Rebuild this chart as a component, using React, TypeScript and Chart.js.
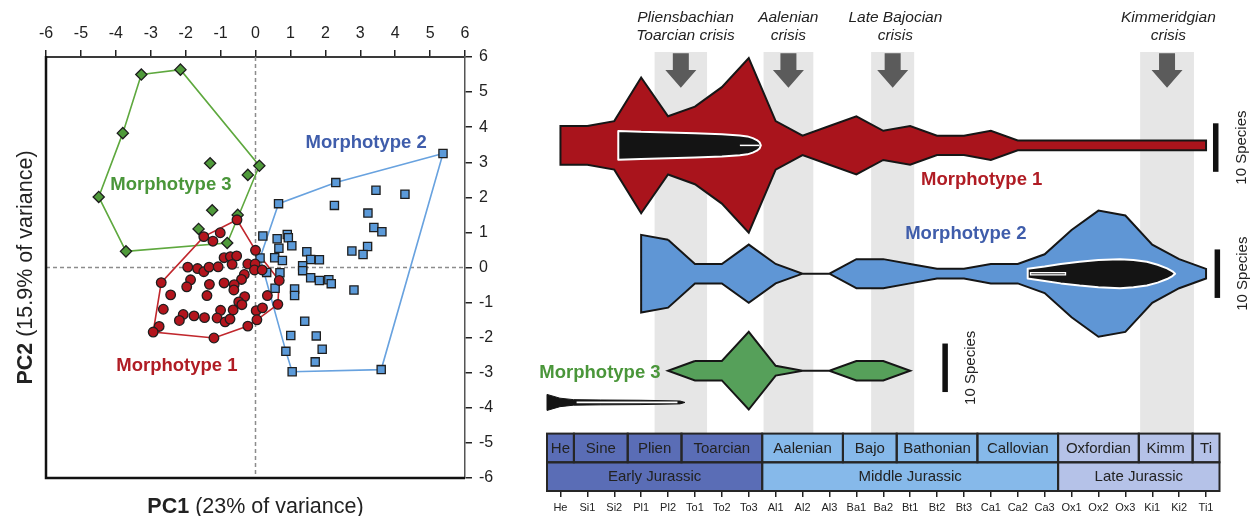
import { useEffect, useRef } from "react";
import { Chart, registerables } from "chart.js";

Chart.register(...registerables);

const FONT = '"Liberation Sans", Arial, Helvetica, sans-serif';
const INK = "#222222";

/* ---------------- Morphospace (PCA) ---------------- */

const PC_MIN = -6;
const PC_MAX = 6;

// [PC1, PC2] scores per specimen
const MORPHOTYPE_1_SCORES: [number, number][] = [
  [-0.53, 1.36], [-1.48, 0.88], [-1.01, 0.99], [-1.22, 0.75], [0.0, 0.49],
  [-0.9, 0.28], [-0.72, 0.31], [-0.54, 0.33], [-0.67, 0.09],
  [-0.22, 0.1], [-0.01, 0.1], [-0.03, -0.07], [0.19, -0.07],
  [-1.94, 0.01], [-1.66, -0.03], [-1.48, -0.12], [-1.33, 0.01], [-1.07, 0.02],
  [-0.32, -0.2], [-0.4, -0.34], [0.68, -0.37], [-2.7, -0.43],
  [-1.86, -0.35], [-1.97, -0.55], [-1.32, -0.48], [-0.9, -0.44], [-0.61, -0.49], [-0.62, -0.64],
  [-2.43, -0.78], [-1.39, -0.8], [-0.31, -0.83], [0.34, -0.8],
  [-0.48, -0.98], [-0.39, -1.06], [0.64, -1.05],
  [-2.64, -1.19], [-1.0, -1.22], [-0.64, -1.21], [0.02, -1.23], [0.2, -1.15],
  [-2.07, -1.34], [-2.18, -1.51], [-1.76, -1.38], [-1.46, -1.43],
  [-1.1, -1.44], [-0.87, -1.55], [-0.73, -1.47], [0.04, -1.49], [-0.22, -1.67],
  [-2.76, -1.68], [-2.93, -1.84], [-1.19, -2.01],
];

const MORPHOTYPE_2_SCORES: [number, number][] = [
  [5.37, 3.25], [2.3, 2.42], [3.45, 2.2], [4.28, 2.09], [0.66, 1.82], [2.26, 1.77],
  [3.22, 1.55], [3.39, 1.14], [3.62, 1.02],
  [0.21, 0.9], [0.62, 0.82], [0.91, 0.94], [0.94, 0.85], [0.67, 0.55], [1.04, 0.62],
  [2.76, 0.47], [3.21, 0.6], [3.08, 0.37],
  [0.13, 0.27], [0.55, 0.28], [0.77, 0.2], [1.47, 0.45], [1.58, 0.23], [1.83, 0.22],
  [1.35, 0.05], [1.35, -0.09], [0.32, -0.14], [0.7, -0.15],
  [1.58, -0.29], [1.83, -0.37], [2.1, -0.35], [2.17, -0.46],
  [2.82, -0.64], [0.56, -0.59], [1.12, -0.61], [1.12, -0.8],
  [1.41, -1.53], [1.01, -1.94], [1.74, -1.95], [1.91, -2.33], [0.87, -2.39],
  [1.71, -2.69], [1.05, -2.97], [3.6, -2.91],
];

const MORPHOTYPE_3_SCORES: [number, number][] = [
  [-3.27, 5.5], [-2.15, 5.64], [-3.8, 3.83], [-1.3, 2.97], [0.11, 2.9], [-0.22, 2.64],
  [-4.49, 2.01], [-1.24, 1.63], [-0.51, 1.5], [-1.63, 1.1], [-0.81, 0.7], [-3.71, 0.46],
];

// outlines drawn round each morphotype
const MORPHOTYPE_1_HULL: [number, number][] = [
  [-0.53, 1.36], [0.0, 0.49], [0.68, -0.37], [0.64, -1.05], [0.04, -1.49],
  [-0.22, -1.67], [-1.19, -2.01], [-2.93, -1.84], [-2.7, -0.43], [-1.48, 0.88],
];
const MORPHOTYPE_2_HULL: [number, number][] = [
  [5.37, 3.25], [2.3, 2.42], [0.66, 1.82], [0.13, 0.27], [0.87, -2.39], [1.05, -2.97], [3.6, -2.91],
];
const MORPHOTYPE_3_HULL: [number, number][] = [
  [-3.27, 5.5], [-2.15, 5.64], [0.11, 2.9], [-0.81, 0.7], [-3.71, 0.46], [-4.49, 2.01], [-3.8, 3.83],
];

const MORPHOTYPE_NAMES = ["Morphotype 1", "Morphotype 2", "Morphotype 3"];
const MARKER_COLORS = ["#b3151d", "#5b9ad9", "#4f9a3a"];
const HULL_COLORS = ["#c1272d", "#68a2df", "#5ea83e"];
const LABEL_COLORS = ["#b01c24", "#3f5dab", "#4a963a"];
const PCA_LABEL_AT: [number, number][] = [[-2.25, -2.81], [3.17, 3.54], [-2.42, 2.36]];

/* ---------------- Stratigraphic ranges ---------------- */

const TIME_BINS = [
  "He", "Si1", "Si2", "Pl1", "Pl2", "To1", "To2", "To3", "Al1", "Al2", "Al3", "Ba1", "Ba2",
  "Bt1", "Bt2", "Bt3", "Ca1", "Ca2", "Ca3", "Ox1", "Ox2", "Ox3", "Ki1", "Ki2", "Ti1",
];
const STAGES = ["He", "Sine", "Plien", "Toarcian", "Aalenian", "Bajo", "Bathonian", "Callovian", "Oxfordian", "Kimm", "Ti"];
const STAGE_BINS = [1, 2, 2, 3, 3, 2, 3, 3, 3, 2, 1];
const EPOCHS = ["Early Jurassic", "Middle Jurassic", "Late Jurassic"];
const EPOCH_BINS = [8, 11, 6];
const EPOCH_COLORS = ["#5a6db6", "#86b9ea", "#b5c2e8"];

// species richness per time bin (null = not present)
const RICHNESS_1 = [8, 8, 10, 28, 12, 16, 24, 36, 10, 4, 8, 12, 6, 8, 4, 4, 6, 2, 2, 2, 2, 2, 2, 2, 2];
const RICHNESS_2 = [null, null, null, 16, 14, 4, 4, 12, 4, 0, 0, 6, 6, 4, 2, 2, 4, 4, 8, 18, 26, 24, 12, 6, 2];
const RICHNESS_3 = [null, null, null, null, 0, 4, 4, 16, 2, 0, 0, 4, 4, 0, null, null, null, null, null, null, null, null, null, null, null];

// black sub-lineages: position along the bins and width in species
const LINEAGE_1_POS = [2.15, 3, 4, 5, 6, 6.67, 6.95, 7.15, 7.3, 7.4, 7.45];
const LINEAGE_1_WIDTH = [5.9, 5.6, 5.3, 5.0, 4.6, 4.1, 3.7, 3.0, 2.2, 1.3, 0];
const LINEAGE_2_POS = [17.37, 18, 18.6, 19.3, 20, 20.8, 21.3, 21.8, 22.2, 22.55, 22.75, 22.85];
const LINEAGE_2_WIDTH = [2.0, 3.0, 4.0, 4.9, 5.6, 6.0, 5.6, 4.9, 3.7, 2.2, 1.0, 0];
const LINEAGE_3_POS = [-0.5, -0.02, 0.48, 1.5, 2.96, 4.44, 4.63];
const LINEAGE_3_WIDTH = [3.3, 1.75, 1.15, 1.0, 0.9, 0.6, 0];
const LINEAGE_MARKS: [number, number][] = [[6.67, 7.4], [17.45, 18.8], [0.6, 4.35]];

// vertical layout of the rows, in species units
const Y_SPECIES_MAX = 90.5;
const ROW_CENTRE = [71.25, 44.8, 24.8];
const LINEAGE_3_CENTRE = 18.26;
const SCALE_BAR_SPECIES = 10;
const BAR_AT = [24.36, 24.42, 14.3];
const BAR_CENTRE = [70.8, 44.8, 25.4];
const SPINDLE_LABEL_AT: [number, number][] = [[15.66, 64.1], [15.07, 53.1], [1.47, 24.26]];
const SPINDLE_COLORS = ["#a9141c", "#5f96d5", "#56a05a"];

// extinction events
const CRISES = ["Pliensbachian\nToarcian crisis", "Aalenian\ncrisis", "Late Bajocian\ncrisis", "Kimmeridgian\ncrisis"];
const CRISIS_START = [3.5, 7.55, 11.55, 21.55];
const CRISIS_END = [5.45, 9.4, 13.15, 23.55];
const CRISIS_LABEL_AT = [4.65, 8.47, 12.45, 22.6];

/* ---------------- helpers ---------------- */

type Pt = { x: number; y: number };

function closedRing(pos: number[], widths: (number | null)[], centre: number): Pt[] {
  const upper: Pt[] = [];
  const lower: Pt[] = [];
  pos.forEach((p, i) => {
    const w = widths[i];
    if (w == null) return;
    upper.push({ x: p, y: centre + w / 2 });
    lower.unshift({ x: p, y: centre - w / 2 });
  });
  const pts = upper.concat(lower);
  // start on a flat part of the outline so the seam is invisible
  return pts.slice(1).concat(pts.slice(0, 2));
}

function drawMixed(ctx: CanvasRenderingContext2D, parts: [string, string][], cx: number, y: number) {
  const widths = parts.map(([t, f]) => {
    ctx.font = f;
    return ctx.measureText(t).width;
  });
  let x = cx - widths.reduce((a, b) => a + b, 0) / 2;
  ctx.textAlign = "left";
  parts.forEach(([t, f], i) => {
    ctx.font = f;
    ctx.fillText(t, x, y);
    x += widths[i];
  });
}

/* ---------------- PCA chart ---------------- */

const pcaDecor = {
  id: "pcaDecor",
  beforeDatasetsDraw(chart: any) {
    const { ctx, chartArea: a, scales } = chart;
    const x0 = scales.x.getPixelForValue(0);
    const y0 = scales.y.getPixelForValue(0);
    ctx.save();
    ctx.strokeStyle = "#8c8c8c";
    ctx.lineWidth = 1.5;
    ctx.setLineDash([4, 3]);
    ctx.beginPath();
    ctx.moveTo(x0, a.top);
    ctx.lineTo(x0, a.bottom);
    ctx.moveTo(a.left, y0);
    ctx.lineTo(a.right, y0);
    ctx.stroke();
    ctx.restore();
  },
  afterDraw(chart: any) {
    const { ctx, chartArea: a, scales } = chart;
    ctx.save();
    ctx.strokeStyle = "#111";
    ctx.lineWidth = 2.5;
    ctx.beginPath();
    ctx.moveTo(a.left, a.top - 1);
    ctx.lineTo(a.left, a.bottom);
    ctx.lineTo(a.right, a.bottom);
    ctx.stroke();

    ctx.font = `bold 18.5px ${FONT}`;
    ctx.textAlign = "center";
    ctx.textBaseline = "middle";
    MORPHOTYPE_NAMES.forEach((name, i) => {
      ctx.fillStyle = LABEL_COLORS[i];
      ctx.fillText(name, scales.x.getPixelForValue(PCA_LABEL_AT[i][0]), scales.y.getPixelForValue(PCA_LABEL_AT[i][1]));
    });

    ctx.fillStyle = INK;
    ctx.textBaseline = "alphabetic";
    drawMixed(ctx, [["PC1", `bold 21.5px ${FONT}`], [" (23% of variance)", `21.5px ${FONT}`]], (a.left + a.right) / 2, 513);
    ctx.translate(31.5, (a.top + a.bottom) / 2);
    ctx.rotate(-Math.PI / 2);
    drawMixed(ctx, [["PC2", `bold 21.5px ${FONT}`], [" (15.9% of variance)", `21.5px ${FONT}`]], 0, 0);
    ctx.restore();
  },
};

function PcaChart() {
  const ref = useRef<HTMLCanvasElement>(null);
  useEffect(() => {
    const toXY = (arr: [number, number][]) => arr.map(([x, y]) => ({ x, y }));
    const closeRing = (arr: [number, number][]) => toXY(arr.concat([arr[0]]));
    const scores = [MORPHOTYPE_1_SCORES, MORPHOTYPE_2_SCORES, MORPHOTYPE_3_SCORES];
    const hulls = [MORPHOTYPE_1_HULL, MORPHOTYPE_2_HULL, MORPHOTYPE_3_HULL];
    const styles = ["circle", "rect", "rectRot"];
    const radii = [4.8, 5.8, 5.6];

    const pointSets = scores.map((s, i) => ({
      label: MORPHOTYPE_NAMES[i],
      data: toXY(s),
      pointStyle: styles[i],
      pointRadius: radii[i],
      pointBackgroundColor: MARKER_COLORS[i],
      pointBorderColor: "#1e1e1e",
      pointBorderWidth: 1.3,
      showLine: false,
      order: 0,
    }));
    const hullSets = hulls.map((h, i) => ({
      label: MORPHOTYPE_NAMES[i] + " hull",
      data: closeRing(h),
      showLine: true,
      pointRadius: 0,
      borderColor: HULL_COLORS[i],
      borderWidth: 1.6,
      fill: false,
      order: 1,
    }));

    const tickFont = { family: FONT, size: 16 };
    const chart = new Chart(ref.current!, {
      type: "scatter",
      data: { datasets: [...pointSets, ...hullSets] as any },
      options: {
        responsive: false,
        animation: false,
        events: [],
        layout: { padding: { left: 46, bottom: 38, top: 0, right: 0 } },
        plugins: { legend: { display: false }, tooltip: { enabled: false } },
        scales: {
          x: {
            type: "linear",
            position: "top",
            min: PC_MIN,
            max: PC_MAX,
            ticks: { stepSize: 1, color: INK, font: tickFont, padding: 7, maxRotation: 0 },
            grid: { drawOnChartArea: false, tickLength: 7, color: "#222", lineWidth: 1.5 },
            border: { color: "#3a3a3a", width: 2 },
            afterFit: (s: any) => {
              s.height = 57;
            },
          },
          y: {
            type: "linear",
            position: "right",
            min: PC_MIN,
            max: PC_MAX,
            ticks: { stepSize: 1, color: INK, font: tickFont, padding: 7 },
            grid: { drawOnChartArea: false, tickLength: 7, color: "#222", lineWidth: 1.5 },
            border: { color: "#555", width: 1.5 },
            afterFit: (s: any) => {
              s.width = 55;
            },
          },
        },
      } as any,
      plugins: [pcaDecor as any],
    });
    return () => chart.destroy();
  }, []);
  return <canvas ref={ref} width={520} height={516} style={{ position: "absolute", left: 0, top: 0, width: 520, height: 516 }} />;
}

/* ---------------- Range chart ---------------- */

const STRIP_ROW = 28.7;

const rangeDecor = {
  id: "rangeDecor",
  beforeDatasetsDraw(chart: any) {
    const { ctx, chartArea: a, scales } = chart;
    const px = (v: number) => scales.x.getPixelForValue(v);
    const stripTop = a.bottom - 2 * STRIP_ROW;
    ctx.save();

    ctx.fillStyle = "#e6e6e6";
    CRISIS_START.forEach((s, i) => {
      const l = px(s);
      const r = px(CRISIS_END[i]);
      ctx.fillRect(l, a.top, r - l, stripTop - a.top);
    });

    ctx.fillStyle = "#5b5b5b";
    CRISIS_START.forEach((s, i) => {
      const c = px((s + CRISIS_END[i]) / 2);
      const t = a.top + 1.3;
      const h = a.top + 18;
      const tip = a.top + 35.7;
      ctx.beginPath();
      ctx.moveTo(c - 8, t);
      ctx.lineTo(c + 8, t);
      ctx.lineTo(c + 8, h);
      ctx.lineTo(c + 15.5, h);
      ctx.lineTo(c, tip);
      ctx.lineTo(c - 15.5, h);
      ctx.lineTo(c - 8, h);
      ctx.closePath();
      ctx.fill();
    });

    ctx.fillStyle = INK;
    ctx.font = `italic 15.5px ${FONT}`;
    ctx.textAlign = "center";
    ctx.textBaseline = "alphabetic";
    CRISES.forEach((name, i) => {
      name.split("\n").forEach((line, k) => ctx.fillText(line, px(CRISIS_LABEL_AT[i]), 21.7 + k * 18.3));
    });

    // geological time scale
    const epochOf = (bin: number) => {
      let acc = 0;
      for (let k = 0; k < EPOCH_BINS.length; k++) {
        acc += EPOCH_BINS[k];
        if (bin < acc) return k;
      }
      return EPOCH_BINS.length - 1;
    };
    const cells: { name: string; s: number; e: number; row: number; color: string }[] = [];
    let b = 0;
    STAGES.forEach((name, i) => {
      cells.push({ name, s: b, e: b + STAGE_BINS[i], row: 0, color: EPOCH_COLORS[epochOf(b)] });
      b += STAGE_BINS[i];
    });
    b = 0;
    EPOCHS.forEach((name, i) => {
      cells.push({ name, s: b, e: b + EPOCH_BINS[i], row: 1, color: EPOCH_COLORS[i] });
      b += EPOCH_BINS[i];
    });
    cells.forEach((c) => {
      ctx.fillStyle = c.color;
      const l = px(c.s - 0.5);
      ctx.fillRect(l, stripTop + c.row * STRIP_ROW, px(c.e - 0.5) - l, STRIP_ROW);
    });
    ctx.strokeStyle = "#262626";
    ctx.lineWidth = 2;
    ctx.font = `15px ${FONT}`;
    ctx.textBaseline = "middle";
    cells.forEach((c) => {
      const l = px(c.s - 0.5);
      const r = px(c.e - 0.5);
      const top = stripTop + c.row * STRIP_ROW;
      ctx.strokeRect(l, top, r - l, STRIP_ROW);
      ctx.fillStyle = INK;
      ctx.fillText(c.name, (l + r) / 2, top + STRIP_ROW / 2 + 0.5);
    });
    ctx.restore();
  },
  afterDatasetsDraw(chart: any) {
    const { ctx, scales } = chart;
    const px = (v: number) => scales.x.getPixelForValue(v);
    const py = (v: number) => scales.y.getPixelForValue(v);
    ctx.save();
    ctx.font = `bold 18.5px ${FONT}`;
    ctx.textAlign = "center";
    ctx.textBaseline = "middle";
    MORPHOTYPE_NAMES.forEach((name, i) => {
      ctx.fillStyle = LABEL_COLORS[i];
      ctx.fillText(name, px(SPINDLE_LABEL_AT[i][0]), py(SPINDLE_LABEL_AT[i][1]));
    });
    BAR_AT.forEach((at, i) => {
      const bx = px(at);
      const top = py(BAR_CENTRE[i] + SCALE_BAR_SPECIES / 2);
      const bot = py(BAR_CENTRE[i] - SCALE_BAR_SPECIES / 2);
      ctx.fillStyle = "#111";
      ctx.fillRect(bx - 2.75, top, 5.5, bot - top);
      ctx.save();
      ctx.translate(bx + 26, (top + bot) / 2);
      ctx.rotate(-Math.PI / 2);
      ctx.font = `15px ${FONT}`;
      ctx.fillStyle = INK;
      ctx.fillText(`${SCALE_BAR_SPECIES} Species`, 0, 0);
      ctx.restore();
    });
    ctx.restore();
  },
};

function RangeChart() {
  const ref = useRef<HTMLCanvasElement>(null);
  useEffect(() => {
    const binPos = TIME_BINS.map((_, i) => i);
    const richness = [RICHNESS_1, RICHNESS_2, RICHNESS_3];
    const shape = {
      showLine: true,
      pointRadius: 0,
      pointHoverRadius: 0,
      fill: "shape",
      borderJoinStyle: "miter",
      borderDash: [1000, 0],
      tension: 0,
      clip: false,
    };
    const spindles = richness.map((r, i) => ({
      ...shape,
      label: MORPHOTYPE_NAMES[i],
      data: closedRing(binPos, r, ROW_CENTRE[i]),
      backgroundColor: SPINDLE_COLORS[i],
      borderColor: "#161616",
      borderWidth: 2,
      order: 3,
    }));
    const lineages = [
      { pos: LINEAGE_1_POS, w: LINEAGE_1_WIDTH, c: ROW_CENTRE[0], border: "#ffffff", bw: 2 },
      { pos: LINEAGE_2_POS, w: LINEAGE_2_WIDTH, c: ROW_CENTRE[1], border: "#ffffff", bw: 2 },
      { pos: LINEAGE_3_POS, w: LINEAGE_3_WIDTH, c: LINEAGE_3_CENTRE, border: "#141414", bw: 1 },
    ].map((l, i) => ({
      ...shape,
      label: `lineage ${i + 1}`,
      data: closedRing(l.pos, l.w, l.c),
      backgroundColor: "#141414",
      borderColor: l.border,
      borderWidth: l.bw,
      borderJoinStyle: "round",
      order: 2,
    }));
    const markCentres = [ROW_CENTRE[0], ROW_CENTRE[1], LINEAGE_3_CENTRE];
    const markWidths = [1.5, 3.5, 1.6];
    const marks: any[] = LINEAGE_MARKS.map(([s, e], i) => ({
      label: `mark ${i + 1}`,
      data: [{ x: s, y: markCentres[i] }, { x: e, y: markCentres[i] }],
      showLine: true,
      pointRadius: 0,
      borderColor: "#ffffff",
      borderWidth: markWidths[i],
      clip: false,
      order: 1,
    }));
    marks.push({
      label: "mark 2 core",
      data: [{ x: LINEAGE_MARKS[1][0] + 0.05, y: markCentres[1] }, { x: LINEAGE_MARKS[1][1] - 0.05, y: markCentres[1] }],
      showLine: true,
      pointRadius: 0,
      borderColor: "#3a3a3a",
      borderWidth: 1.1,
      clip: false,
      order: 0,
    });

    const chart = new Chart(ref.current!, {
      type: "scatter",
      data: { datasets: [...spindles, ...lineages, ...marks] as any },
      options: {
        responsive: false,
        animation: false,
        events: [],
        layout: { padding: { left: 27, right: 33.5, top: 52, bottom: 0 } },
        plugins: { legend: { display: false }, tooltip: { enabled: false } },
        scales: {
          x: {
            type: "linear",
            position: "bottom",
            min: -0.5,
            max: TIME_BINS.length - 0.5,
            afterBuildTicks: (s: any) => {
              s.ticks = TIME_BINS.map((_, i) => ({ value: i }));
            },
            ticks: {
              autoSkip: false,
              maxRotation: 0,
              color: INK,
              font: { family: FONT, size: 11 },
              padding: 4,
              callback: (v: any) => TIME_BINS[v] ?? "",
            },
            grid: { drawOnChartArea: false, tickLength: 6, color: "#222", lineWidth: 1.5 },
            border: { display: false },
            afterFit: (s: any) => {
              s.height = 25;
            },
          },
          y: { type: "linear", display: false, min: 0, max: Y_SPECIES_MAX },
        },
      } as any,
      plugins: [rangeDecor as any],
    });
    return () => chart.destroy();
  }, []);
  return <canvas ref={ref} width={733} height={516} style={{ position: "absolute", left: 520, top: 0, width: 733, height: 516 }} />;
}

export default function App() {
  return (
    <div style={{ position: "fixed", left: 0, top: 0, width: 1253, height: 516, background: "#ffffff" }}>
      <PcaChart />
      <RangeChart />
    </div>
  );
}
